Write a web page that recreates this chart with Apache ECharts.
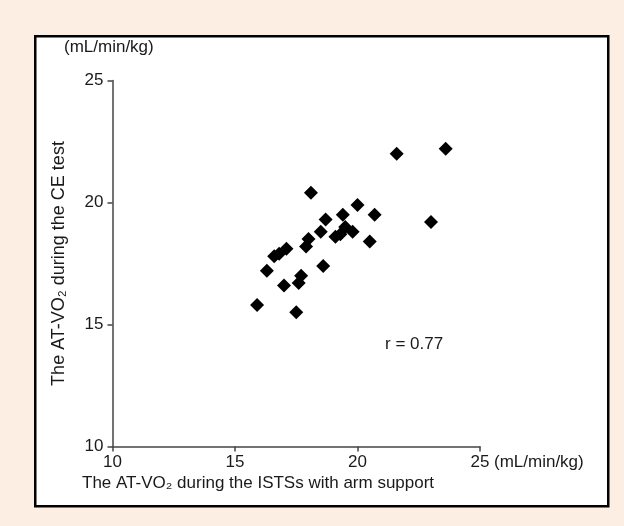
<!DOCTYPE html>
<html>
<head>
<meta charset="utf-8">
<script src="https://cdn.jsdelivr.net/npm/echarts@6/dist/echarts.min.js"></script>
<style>
  html, body { margin: 0; padding: 0; background: #fdeee3; }
  #chart { width: 624px; height: 526px; }
</style>
</head>
<body>
<div id="chart"></div>
<script>
// AT-VO2 during ISTSs with arm support (x) vs AT-VO2 during CE test (y), mL/min/kg
var xValues = [23.6, 21.6, 18.1, 20.0, 20.7, 19.4, 18.7, 23.0, 19.5, 18.5, 19.8, 19.1, 19.3, 18.0, 17.9, 20.5, 17.1, 16.8, 16.6, 16.3, 18.6, 17.7, 17.6, 17.0, 15.9, 17.5];
var yValues = [22.2, 22.0, 20.4, 19.9, 19.5, 19.5, 19.3, 19.2, 19.0, 18.8, 18.8, 18.6, 18.7, 18.5, 18.2, 18.4, 18.1, 17.9, 17.8, 17.2, 17.4, 17.0, 16.7, 16.6, 15.8, 15.5];
var xTicks = [10, 15, 20, 25];
var yTicks = [10, 15, 20, 25];
var unitLabel = '(mL/min/kg)';
var xTitle = 'The AT-VO\u2082 during the ISTSs with arm support';
var yTitle = 'The AT-VO\u2082 during the CE test';
var rLabel = 'r = 0.77';

var points = xValues.map(function (x, i) { return [x, yValues[i]]; });

var chart = echarts.init(document.getElementById('chart'), null, { renderer: 'canvas' });
var font = 'Liberation Sans, Arial, sans-serif';
chart.setOption({
  backgroundColor: '#fdeee3',
  animation: false,
  grid: { left: 112.5, right: 144, top: 80.5, bottom: 79.5, containLabel: false },
  xAxis: {
    type: 'value', min: xTicks[0], max: xTicks[xTicks.length - 1], interval: 5,
    axisLine: { show: true, lineStyle: { color: '#444', width: 1.5 } },
    axisTick: { show: true, length: 5, lineStyle: { color: '#444', width: 1.5 } },
    axisLabel: { color: '#1a1a1a', fontSize: 17, fontFamily: font, margin: 7 },
    splitLine: { show: false }
  },
  yAxis: {
    type: 'value', min: yTicks[0], max: yTicks[yTicks.length - 1], interval: 5,
    name: yTitle, nameLocation: 'middle', nameGap: 44,
    nameTextStyle: { color: '#1a1a1a', fontSize: 18, fontFamily: font },
    axisLine: { show: true, lineStyle: { color: '#444', width: 1.5 } },
    axisTick: { show: true, length: 5, lineStyle: { color: '#444', width: 1.5 } },
    axisLabel: { color: '#1a1a1a', fontSize: 17, fontFamily: font, margin: 9 },
    splitLine: { show: false }
  },
  graphic: [
    { type: 'rect', left: 34, top: 35, shape: { width: 573, height: 470 },
      style: { fill: '#fff', stroke: '#000', lineWidth: 2.5 }, z: -10 },
    { type: 'text', left: 64, top: 39,
      style: { text: unitLabel, fill: '#1a1a1a', font: '17px ' + font } },
    { type: 'text', left: 494, top: 454,
      style: { text: unitLabel, fill: '#1a1a1a', font: '17px ' + font } },
    { type: 'text', left: 82, top: 475,
      style: { text: xTitle, fill: '#1a1a1a', font: '17px ' + font } },
    { type: 'text', left: 385, top: 336,
      style: { text: rLabel, fill: '#1a1a1a', font: '17px ' + font } }
  ],
  series: [{
    type: 'scatter',
    data: points,
    symbol: 'diamond',
    symbolSize: 14,
    itemStyle: { color: '#000', opacity: 1 }
  }]
});
</script>
</body>
</html>
